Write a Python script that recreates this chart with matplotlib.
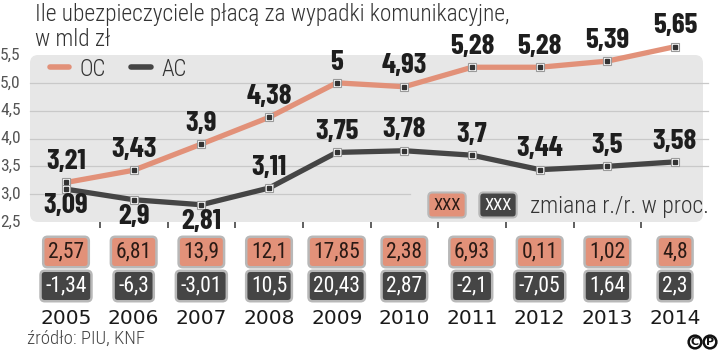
import matplotlib
matplotlib.use("Agg")
import matplotlib.pyplot as plt
from matplotlib.patches import FancyBboxPatch
from matplotlib.lines import Line2D
import matplotlib.transforms as mtransforms

F_LIGHT = ['Roboto Condensed', 'Archivo Narrow', 'Barlow Condensed', 'DejaVu Sans']
F_BOLD = ['Barlow Condensed', 'Roboto Condensed', 'Archivo Narrow', 'DejaVu Sans']
plt.rcParams['font.family'] = F_LIGHT

years = [2005, 2006, 2007, 2008, 2009, 2010, 2011, 2012, 2013, 2014]
oc = [3.21, 3.43, 3.9, 4.38, 5, 4.93, 5.28, 5.28, 5.39, 5.65]
ac = [3.09, 2.9, 2.81, 3.11, 3.75, 3.78, 3.7, 3.44, 3.5, 3.58]
oc_zmiana = [2.57, 6.81, 13.9, 12.1, 17.85, 2.38, 6.93, 0.11, 1.02, 4.8]
ac_zmiana = [-1.34, -6.3, -3.01, 10.5, 20.43, 2.87, -2.1, -7.05, 1.64, 2.3]
ac_pod = [2005, 2006, 2007]  # lata z etykieta AC pod punktem
yticks = [2.5, 3.0, 3.5, 4.0, 4.5, 5.0, 5.5]

C_OC = '#e29179'
C_AC = '#454545'
C_PANEL = '#e7e7e7'
C_GRID = '#c9c9c9'
C_BORDER = '#b8b8b8'


def fmt(v):
    return f"{v:g}".replace('.', ',')


W, H = 720, 352
fig = plt.figure(figsize=(W / 100, H / 100), dpi=100)
ax = fig.add_axes([30 / W, 1 - 222 / H, 673 / W, 167 / H])
ax.set_xlim(2004.468, 2014.413)
ax.set_ylim(2.5, 5.5)
for s in ax.spines.values():
    s.set_visible(False)
ax.patch.set_alpha(0)

# tlo panelu
panel = FancyBboxPatch((0, 0), 1, 1, boxstyle="round,pad=0,rounding_size=0.012",
                       mutation_aspect=673 / 167, transform=ax.transAxes,
                       fc=C_PANEL, ec='none', zorder=0, clip_on=False)
ax.add_patch(panel)

# siatka
for y in yticks[1:-1]:
    xmax = 0.565 if y == 3.0 else 1.0075
    ax.axhline(y, xmin=0, xmax=xmax, color=C_GRID, lw=0.9, zorder=1, clip_on=False)

# opisy osi Y
ax.set_yticks([])
ty = mtransforms.blended_transform_factory(ax.transAxes, ax.transData)
for v in yticks:
    ax.text(-30 / 673, v, f"{v:.1f}".replace('.', ','), transform=ty, ha='left', va='center',
            fontsize=12.5, color='#555555', clip_on=False)

ax.set_xticks([y + 0.5 for y in years[:-1]])
ax.set_xticklabels([])
ax.tick_params(axis='x', direction='out', length=4, width=1.2, color='#444444', pad=0)

# linie
for vals, col in [(oc, C_OC), (ac, C_AC)]:
    ax.plot(years, vals, color=col, lw=3.8, solid_joinstyle='round', zorder=3, clip_on=False)
    ax.plot(years, vals, 's', ms=6, mfc='white', mec='#9a9a9a', mew=0.8, zorder=4, clip_on=False)
    ax.plot(years, vals, 's', ms=2.4, color='#333333', zorder=5, clip_on=False)

# etykiety wartosci
lab_kw = dict(textcoords='offset points', ha='center', va='center', fontsize=21,
              fontweight='bold', color='#1e1e1e', zorder=6, annotation_clip=False, family=F_BOLD)
for x, v in zip(years, oc):
    ax.annotate(fmt(v), (x, v), xytext=(0, 15), **lab_kw)
for x, v in zip(years, ac):
    dy = -12 if x in ac_pod else 15
    ax.annotate(fmt(v), (x, v), xytext=(0, dy), **lab_kw)

# legenda gorna
handles = [Line2D([], [], color=C_OC, lw=4, solid_capstyle='round'),
           Line2D([], [], color=C_AC, lw=4, solid_capstyle='round')]
ax.legend(handles, ['OC', 'AC'], loc='center left', bbox_to_anchor=(20 / 673, 1 - 14 / 167),
          frameon=False, ncol=2, handlelength=0.85, handletextpad=0.45,
          columnspacing=1.1, borderpad=0, borderaxespad=0, labelcolor='#333333',
          prop={'family': F_LIGHT, 'weight': 'light', 'size': 16.5})

# legenda dolna
ax.text((447 - 30) / 673, 1 - (205 - 55) / 167, 'XXX', transform=ax.transAxes, ha='center',
        va='center', fontsize=12, color='#2a1a15', zorder=6,
        bbox=dict(boxstyle='round,pad=0.3,rounding_size=0.25', fc=C_OC, ec=C_BORDER, lw=1.5))
ax.text((498 - 30) / 673, 1 - (205 - 55) / 167, 'XXX', transform=ax.transAxes, ha='center',
        va='center', fontsize=12, color='white', zorder=6,
        bbox=dict(boxstyle='round,pad=0.3,rounding_size=0.25', fc=C_AC, ec=C_BORDER, lw=1.5))
ax.text((530 - 30) / 673, 1 - (206 - 55) / 167, 'zmiana r./r. w proc.', transform=ax.transAxes,
        ha='left', va='center', fontsize=17, fontweight='light', color='#333333', zorder=6)

# pudelka ze zmiana r/r
tr = mtransforms.blended_transform_factory(ax.transData, fig.transFigure)
for x, a, b in zip(years, oc_zmiana, ac_zmiana):
    ax.text(x, 1 - 252 / H, fmt(a), transform=tr, ha='center', va='center', fontsize=15.5,
            color='#2a1a15', clip_on=False,
            bbox=dict(boxstyle='round,pad=0.22,rounding_size=0.2', fc=C_OC, ec=C_BORDER, lw=1.8))
    ax.text(x, 1 - 286 / H, fmt(b), transform=tr, ha='center', va='center', fontsize=15.5,
            color='white', clip_on=False,
            bbox=dict(boxstyle='round,pad=0.22,rounding_size=0.2', fc=C_AC, ec=C_BORDER, lw=1.8))
    ax.text(x, 1 - 318 / H, str(x), transform=tr, ha='center', va='center', fontsize=14.5,
            color='#1a1a1a', family=['DejaVu Sans'], clip_on=False)

# tytul i zrodlo
fig.text(35 / W, 1 - 14 / H, 'Ile ubezpieczyciele płacą za wypadki komunikacyjne,', ha='left',
         va='center', fontsize=16.8, fontweight='light', color='#333333')
fig.text(35 / W, 1 - 40 / H, 'w mld zł', ha='left', va='center', fontsize=16.8,
         fontweight='light', color='#333333')
fig.text(27 / W, 1 - 339 / H, 'źródło: PIU, KNF', ha='left', va='center', fontsize=13.5,
         fontweight='light', color='#444444')

# logo
for cx, ch in [(695, 'C'), (710, 'P')]:
    fig.text(cx / W, 1 - 342 / H, ch, ha='center', va='center', fontsize=8, fontweight='bold',
             color='#111111', family=['DejaVu Sans'],
             bbox=dict(boxstyle='circle,pad=0.12', fc='white', ec='#111111', lw=1.8))

fig.savefig('out.png', dpi=100)
